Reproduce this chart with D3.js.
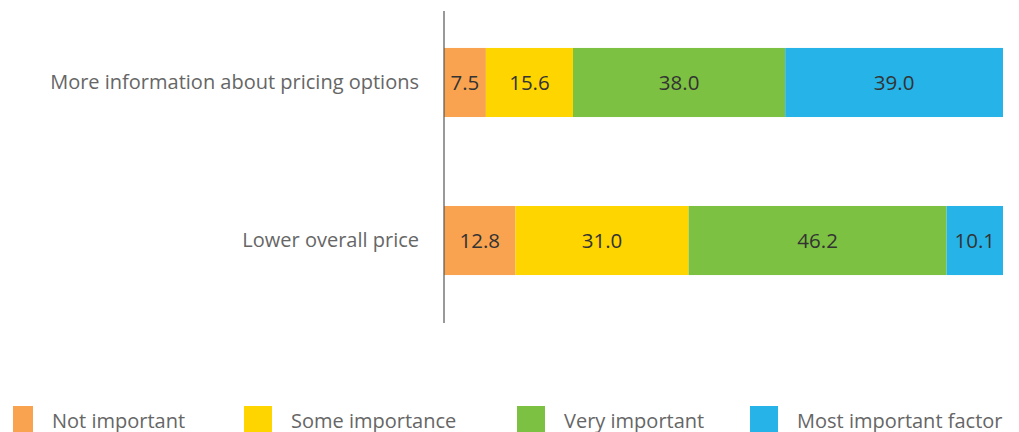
<!DOCTYPE html>
<html>
<head>
<meta charset="utf-8">
<script src="https://cdn.jsdelivr.net/npm/d3@7"></script>
<style>
  body { margin: 0; background: #fff; }
  svg text { font-family: "Open Sans", sans-serif; }
</style>
</head>
<body>
<div id="chart"></div>
<script>
const categories = ['More information about pricing options', 'Lower overall price'];
const series = ['Not important', 'Some importance', 'Very important', 'Most important factor'];
const notImportant = [7.5, 12.8];
const someImportance = [15.6, 31.0];
const veryImportant = [38.0, 46.2];
const mostImportant = [39.0, 10.1];
const colors = ['#F9A350', '#FFD500', '#7DC142', '#25B3E8'];

const width = 1019;
const height = 432;
const margin = {left: 444, right: 16};

const svg = d3.select('#chart')
  .append('svg')
  .attr('width', width)
  .attr('height', height);

// rows for the stack
const rows = categories.map((c, i) => ({
  cat: c,
  'Not important': notImportant[i],
  'Some importance': someImportance[i],
  'Very important': veryImportant[i],
  'Most important factor': mostImportant[i]
}));
const stacked = d3.stack().keys(series)(rows);

const x = d3.scaleLinear()
  .domain([0, 100.1])
  .range([margin.left, width - margin.right]);

const y = d3.scaleBand()
  .domain(categories)
  .range([0, 323])
  .paddingInner(0.563)
  .paddingOuter(0.3035);

const color = d3.scaleOrdinal().domain(series).range(colors);

const layer = svg.append('g')
  .selectAll('g')
  .data(stacked)
  .join('g')
  .attr('fill', d => color(d.key));

layer.selectAll('rect')
  .data(d => d)
  .join('rect')
  .attr('x', d => x(d[0]))
  .attr('y', d => y(d.data.cat))
  .attr('width', d => x(d[1]) - x(d[0]))
  .attr('height', y.bandwidth());

layer.selectAll('text')
  .data(d => d)
  .join('text')
  .attr('x', d => (x(d[0]) + x(d[1])) / 2)
  .attr('y', d => y(d.data.cat) + y.bandwidth() / 2)
  .attr('dy', '0.35em')
  .attr('text-anchor', 'middle')
  .attr('fill', '#333')
  .attr('font-size', '20.5px')
  .text(d => (d[1] - d[0]).toFixed(1));

// category axis
const yAxis = svg.append('g')
  .attr('transform', `translate(${margin.left},0)`)
  .call(d3.axisLeft(y).tickSize(0).tickPadding(25));
yAxis.select('.domain').remove();
yAxis.selectAll('text')
  .attr('font-size', '20px')
  .attr('fill', '#666')
  .style('font-family', '"Open Sans", sans-serif');

svg.append('line')
  .attr('x1', margin.left).attr('x2', margin.left)
  .attr('y1', 11).attr('y2', 323)
  .attr('stroke', '#555')
  .attr('stroke-width', 1.2);

// legend
const legendX = [13, 244, 517, 750];
const legend = svg.append('g')
  .selectAll('g')
  .data(series)
  .join('g')
  .attr('transform', (d, i) => `translate(${legendX[i]},406)`);

legend.append('rect')
  .attr('width', (d, i) => i === 0 ? 20 : 28)
  .attr('height', 26)
  .attr('fill', d => color(d));

legend.append('text')
  .attr('x', (d, i) => (i === 0 ? 20 : 28) + 19)
  .attr('y', 21.5)
  .attr('font-size', '20px')
  .attr('fill', '#666')
  .text(d => d);
</script>
</body>
</html>
